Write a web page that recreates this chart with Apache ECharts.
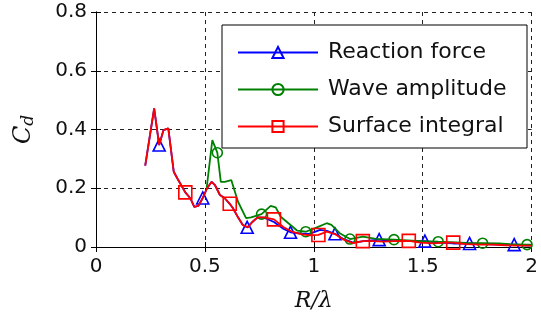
<!DOCTYPE html>
<html><head><meta charset="utf-8">
<script src="https://cdn.jsdelivr.net/npm/echarts@6/dist/echarts.min.js"></script>
<style>html,body{margin:0;padding:0;background:#fff}#c{width:541px;height:327px}</style>
</head><body><div id="c"></div>
<script>
// Reaction force
var rfX = [0.226,0.267,0.29,0.31,0.332,0.357,0.373,0.41,0.433,0.451,0.47,0.49,0.51,0.531,0.546,0.569,0.591,0.614,0.629,0.652,0.674,0.694,0.719,0.742,0.772,0.817,0.86,0.893,0.94,0.98,1.029,1.06,1.097,1.134,1.18,1.23,1.3,1.36,1.42,1.51,1.57,1.64,1.715,1.78,1.85,1.92,1.96,2.0];
var rfY = [0.277,0.472,0.347,0.398,0.404,0.256,0.234,0.186,0.166,0.137,0.14,0.167,0.2,0.222,0.211,0.177,0.166,0.147,0.132,0.101,0.075,0.067,0.086,0.101,0.1,0.085,0.062,0.05,0.046,0.045,0.058,0.055,0.045,0.028,0.015,0.02,0.025,0.02,0.02,0.02,0.015,0.012,0.012,0.01,0.008,0.008,0.006,0.005];
var rfMarks = [0.29,0.49,0.694,0.893,1.097,1.3,1.51,1.715,1.92];
// Wave amplitude
var waX = [0.508,0.534,0.557,0.573,0.591,0.621,0.652,0.689,0.712,0.76,0.802,0.825,0.848,0.893,0.923,0.963,1.006,1.059,1.081,1.119,1.166,1.225,1.285,1.368,1.45,1.5,1.571,1.65,1.7,1.775,1.85,1.9,1.979,2.0];
var waY = [0.2,0.364,0.321,0.222,0.222,0.228,0.154,0.098,0.101,0.112,0.14,0.135,0.103,0.075,0.056,0.052,0.064,0.081,0.075,0.047,0.027,0.035,0.028,0.025,0.022,0.02,0.018,0.016,0.014,0.013,0.012,0.01,0.008,0.008];
var waMarks = [0.557,0.76,0.963,1.166,1.368,1.571,1.775,1.979];
// Surface integral
var siX = [0.226,0.267,0.29,0.31,0.332,0.357,0.373,0.41,0.433,0.451,0.47,0.49,0.51,0.531,0.546,0.569,0.591,0.614,0.629,0.652,0.674,0.697,0.719,0.742,0.772,0.817,0.86,0.9,0.94,0.98,1.021,1.059,1.097,1.134,1.18,1.225,1.27,1.32,1.37,1.436,1.49,1.55,1.6,1.64,1.7,1.76,1.82,1.88,1.94,2.0];
var siY = [0.277,0.472,0.347,0.398,0.404,0.256,0.234,0.186,0.166,0.137,0.14,0.167,0.2,0.222,0.211,0.177,0.166,0.147,0.132,0.101,0.075,0.067,0.086,0.101,0.101,0.094,0.068,0.052,0.044,0.04,0.041,0.052,0.044,0.026,0.013,0.02,0.02,0.018,0.02,0.021,0.015,0.012,0.015,0.015,0.01,0.008,0.008,0.006,0.005,0.005];
var siMarks = [0.41,0.614,0.817,1.021,1.225,1.436,1.64];

var xTicks = [0,0.5,1,1.5,2];
var yTicks = [0,0.2,0.4,0.6,0.8];

function build(xs, ys, marks, sym) {
  return xs.map(function(x, i){
    var item = {value:[x, ys[i]]};
    if (marks.indexOf(x) < 0) item.symbol = 'none'; else item.symbol = sym;
    return item;
  });
}
function ser(name, color, xs, ys, marks, sym, size, z) {
  return {
    name: name, type: 'line', data: build(xs, ys, marks, sym),
    symbol: sym, symbolSize: size, showSymbol: true, showAllSymbol: true,
    lineStyle: {color: color, width: 1.8},
    itemStyle: {color: 'rgba(255,255,255,0)', borderColor: color, borderWidth: 1.6},
    z: z, animation: false
  };
}
var ff = 'DejaVu Sans';
var chart = echarts.init(document.getElementById('c'));
chart.setOption({
  animation: false,
  grid: {left: 96, top: 12, right: 3, bottom: 80},
  legend: {
    orient: 'vertical', left: 222, top: 25,
    itemWidth: 80, itemHeight: 14, itemGap: 14,
    padding: [16, 12, 10, 15],
    backgroundColor: '#fff', borderColor: '#000', borderWidth: 1,
    textStyle: {fontFamily: ff, fontSize: 22, color: '#111', lineHeight: 23, width: 187, padding: [0,0,0,5]},
    data: ['Reaction force', 'Wave amplitude', 'Surface integral'],
    z: 10
  },
  xAxis: [{
    type: 'value', min: xTicks[0], max: xTicks[xTicks.length-1], interval: 0.5,
    name: '{i|R/λ}', nameLocation: 'middle', nameGap: 43,
    nameTextStyle: {rich: {i: {fontFamily: 'DejaVu Serif', fontStyle: 'italic', fontSize: 22, color: '#111'}}},
    axisLine: {lineStyle: {color: '#000', width: 1}},
    axisTick: {inside: true, length: 5, lineStyle: {color: '#000'}},
    axisLabel: {fontFamily: ff, fontSize: 20, color: '#111', margin: 10},
    splitLine: {show: true, lineStyle: {color: '#222', type: [4, 4], width: 1}}
  }, {
    type: 'value', min: xTicks[0], max: xTicks[xTicks.length-1], interval: 0.5, position: 'top',
    axisLine: {show: true, lineStyle: {color: '#000', width: 1}},
    axisTick: {inside: true, length: 5, lineStyle: {color: '#000'}},
    axisLabel: {show: false}, splitLine: {show: false}
  }],
  yAxis: [{
    type: 'value', min: yTicks[0], max: yTicks[yTicks.length-1], interval: 0.2,
    name: '{i|C}{s|d}', nameLocation: 'middle', nameGap: 59, nameRotate: 90,
    nameTextStyle: {rich: {
      i: {fontFamily: 'DejaVu Serif', fontStyle: 'italic', fontSize: 24, color: '#111'},
      s: {fontFamily: 'DejaVu Serif', fontStyle: 'italic', fontSize: 17, color: '#111', padding: [10, 0, 0, 0]}
    }},
    axisLine: {show: true, lineStyle: {color: '#000', width: 1}},
    axisTick: {show: true, inside: true, length: 5, lineStyle: {color: '#000'}},
    axisLabel: {fontFamily: ff, fontSize: 20, color: '#111', margin: 9},
    splitLine: {show: true, lineStyle: {color: '#222', type: [4, 4], width: 1}}
  }, {
    type: 'value', min: yTicks[0], max: yTicks[yTicks.length-1], interval: 0.2, position: 'right',
    axisLine: {show: true, lineStyle: {color: '#000', width: 1}},
    axisTick: {show: true, inside: true, length: 5, lineStyle: {color: '#000'}},
    axisLabel: {show: false}, splitLine: {show: false}
  }],
  series: [
    ser('Reaction force', '#0000ff', rfX, rfY, rfMarks, 'triangle', 12, 2),
    ser('Wave amplitude', '#008000', waX, waY, waMarks, 'circle', 10, 3),
    ser('Surface integral', '#ff0000', siX, siY, siMarks, 'rect', 13, 4)
  ]
});
</script></body></html>
